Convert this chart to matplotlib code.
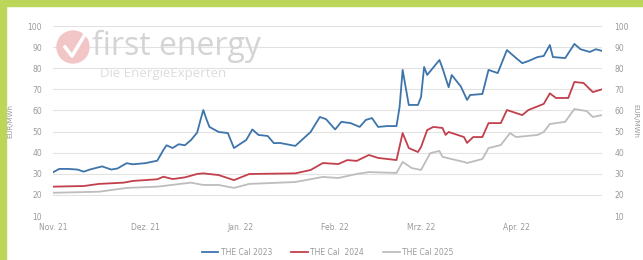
import pandas as pd
import matplotlib.pyplot as plt
from matplotlib.patches import Rectangle, Ellipse

# THE Cal 2023
dates_2023 = ["2021-11-01", "2021-11-03", "2021-11-06", "2021-11-09", "2021-11-11", "2021-11-13",
              "2021-11-17", "2021-11-20", "2021-11-22", "2021-11-25", "2021-11-27", "2021-12-01",
              "2021-12-05", "2021-12-07", "2021-12-08", "2021-12-10", "2021-12-12", "2021-12-14",
              "2021-12-16", "2021-12-18", "2021-12-19", "2021-12-20", "2021-12-21", "2021-12-22",
              "2021-12-25", "2021-12-28", "2021-12-30", "2022-01-03", "2022-01-05", "2022-01-07",
              "2022-01-10", "2022-01-12", "2022-01-14", "2022-01-19", "2022-01-24", "2022-01-27",
              "2022-01-29", "2022-02-01", "2022-02-03", "2022-02-06", "2022-02-09", "2022-02-11",
              "2022-02-13", "2022-02-15", "2022-02-18", "2022-02-21", "2022-02-22", "2022-02-23",
              "2022-02-25", "2022-02-28", "2022-03-01", "2022-03-02", "2022-03-03", "2022-03-07",
              "2022-03-08", "2022-03-10", "2022-03-11", "2022-03-14", "2022-03-16", "2022-03-17",
              "2022-03-21", "2022-03-23", "2022-03-26", "2022-03-29", "2022-04-01", "2022-04-03",
              "2022-04-05", "2022-04-08", "2022-04-10", "2022-04-12", "2022-04-13", "2022-04-17",
              "2022-04-20", "2022-04-22", "2022-04-25", "2022-04-27", "2022-04-29"]
cal_2023 = [30.7, 32.3, 32.3, 32.0, 31.0, 32.0, 33.5, 32.0, 32.5, 35.0, 34.5, 35.0,
            36.2, 41.3, 43.5, 42.2, 44.0, 43.5, 46.0, 49.5, 55.0, 60.2, 56.0, 52.2,
            49.8, 49.3, 42.2, 46.0, 51.0, 48.4, 47.9, 44.5, 44.6, 43.2, 49.8, 56.9,
            55.9, 51.0, 54.6, 54.0, 52.2, 55.5, 56.4, 52.2, 52.6, 52.6, 61.6, 79.2,
            62.6, 62.6, 66.4, 80.6, 76.8, 83.9, 80.0, 71.0, 76.8, 71.3, 65.0, 67.3,
            67.8, 79.2, 77.7, 88.6, 84.8, 82.4, 83.4, 85.3, 85.8, 91.0, 85.3, 84.8,
            91.5, 89.0, 87.7, 89.0, 88.2]

# THE Cal 2024
dates_2024 = ["2021-11-01", "2021-11-11", "2021-11-16", "2021-11-24", "2021-11-27", "2021-12-05",
              "2021-12-07", "2021-12-10", "2021-12-14", "2021-12-18", "2021-12-20", "2021-12-25",
              "2021-12-30", "2022-01-04", "2022-01-19", "2022-01-24", "2022-01-28", "2022-02-02",
              "2022-02-05", "2022-02-08", "2022-02-12", "2022-02-15", "2022-02-21", "2022-02-23",
              "2022-02-25", "2022-02-28", "2022-03-01", "2022-03-03", "2022-03-05", "2022-03-08",
              "2022-03-09", "2022-03-10", "2022-03-15", "2022-03-16", "2022-03-18", "2022-03-21",
              "2022-03-23", "2022-03-27", "2022-03-29", "2022-04-03", "2022-04-05", "2022-04-10",
              "2022-04-12", "2022-04-14", "2022-04-18", "2022-04-20", "2022-04-23", "2022-04-26",
              "2022-04-29"]
cal_2024 = [23.9, 24.2, 25.2, 25.8, 26.6, 27.4, 28.6, 27.5, 28.3, 29.9, 30.2, 29.4,
            27.0, 29.9, 30.2, 31.8, 35.1, 34.6, 36.5, 36.1, 38.9, 37.5, 36.5, 49.3,
            42.2, 40.3, 42.7, 50.7, 52.2, 51.7, 48.4, 49.8, 47.4, 44.6, 47.4, 47.4,
            54.0, 54.0, 60.2, 57.8, 60.2, 63.1, 68.1, 65.9, 65.9, 73.5, 73.0, 68.7,
            70.0]

# THE Cal 2025
dates_2025 = ["2021-11-01", "2021-11-16", "2021-11-25", "2021-12-05", "2021-12-16", "2021-12-20",
              "2021-12-25", "2021-12-30", "2022-01-04", "2022-01-19", "2022-01-28", "2022-02-02",
              "2022-02-08", "2022-02-12", "2022-02-21", "2022-02-23", "2022-02-26", "2022-03-01",
              "2022-03-04", "2022-03-07", "2022-03-08", "2022-03-15", "2022-03-16", "2022-03-21",
              "2022-03-23", "2022-03-27", "2022-03-30", "2022-04-01", "2022-04-08", "2022-04-10",
              "2022-04-12", "2022-04-17", "2022-04-20", "2022-04-24", "2022-04-26", "2022-04-29"]
cal_2025 = [21.0, 21.5, 23.3, 23.9, 25.8, 24.7, 24.7, 23.3, 25.2, 26.1, 28.5, 28.0,
            29.9, 30.8, 30.4, 35.6, 32.7, 31.8, 39.8, 40.8, 38.0, 35.6, 35.1, 37.0,
            42.2, 43.6, 49.3, 47.4, 48.4, 49.8, 53.6, 54.6, 60.7, 59.7, 56.9, 57.8]

month_ticks = ["2021-11-01", "2021-12-01", "2022-01-01", "2022-02-01", "2022-03-01", "2022-04-01"]
month_labels = ["Nov. 21", "Dez. 21", "Jan. 22", "Feb. 22", "Mrz. 22", "Apr. 22"]
y_ticks = [10, 20, 30, 40, 50, 60, 70, 80, 90, 100]

txt = "#9a9a9a"
W, H = 643, 260

fig = plt.figure(figsize=(6.43, 2.60), dpi=100)
fig.patch.set_facecolor("white")
# green frame on top and left
fig.patches.append(Rectangle((0, 1 - 6 / H), 1, 6 / H, transform=fig.transFigure,
                             color="#bcd65a", zorder=0))
fig.patches.append(Rectangle((0, 0), 6 / W, 1, transform=fig.transFigure,
                             color="#bcd65a", zorder=0))

ax = fig.add_axes([53 / W, 44 / H, 549 / W, 190 / H])
ax.set_facecolor("none")

# watermark logo
fig.patches.append(Ellipse((73 / W, 1 - 47 / H), 32 / W, 32 / H, transform=fig.transFigure,
                           color="#f2c6c6", zorder=0))
fig.text(92 / W, 1 - 46 / H, "first energy", fontsize=23, color="#d4d4d4",
         family="Open Sans", va="center", ha="left", zorder=0)
fig.text(100 / W, 1 - 73 / H, "Die EnergieExperten", fontsize=9.5, color="#dcdcdc",
         family="Open Sans", va="center", ha="left", zorder=0)
check = plt.Line2D([65 / W, 72 / W, 84 / W], [1 - 47 / H, 1 - 56 / H, 1 - 36 / H],
                   transform=fig.transFigure, color="white", lw=2.5, zorder=1)
fig.add_artist(check)

ax.plot(pd.to_datetime(dates_2023), cal_2023, color="#3d74aa", lw=1.3, label="THE Cal 2023")
ax.plot(pd.to_datetime(dates_2024), cal_2024, color="#c2404c", lw=1.3, label="THE Cal  2024")
ax.plot(pd.to_datetime(dates_2025), cal_2025, color="#bdbdbd", lw=1.3, label="THE Cal 2025")

ax.set_xlim(pd.Timestamp("2021-11-01"), pd.Timestamp("2022-04-29"))
ax.set_ylim(10, 100)
ax.set_yticks(y_ticks)
ax.set_xticks(pd.to_datetime(month_ticks))
ax.set_xticklabels(month_labels)
ax.grid(axis="y", color="#e2e2e2", lw=0.8)
ax.set_axisbelow(True)
for s in ax.spines.values():
    s.set_visible(False)
ax.tick_params(length=0, labelsize=5.5, colors=txt, pad=8)
ax.tick_params(axis="x", pad=5)
ax.set_ylabel("EUR/MWh", fontsize=5, color=txt, labelpad=10)

ax2 = ax.twinx()
ax2.set_ylim(10, 100)
ax2.set_yticks(y_ticks)
for s in ax2.spines.values():
    s.set_visible(False)
ax2.tick_params(length=0, labelsize=5.5, colors=txt, pad=9)
ax2.set_ylabel("EUR/MWh", fontsize=5, color=txt, rotation=270, labelpad=7)

leg = ax.legend(loc="upper center", bbox_to_anchor=(0.5, -0.13), ncol=3, frameon=False,
                fontsize=5.5, handlelength=2.2, columnspacing=2.5, handletextpad=0.3)
for t in leg.get_texts():
    t.set_color(txt)

fig.savefig("out.png", dpi=100)
